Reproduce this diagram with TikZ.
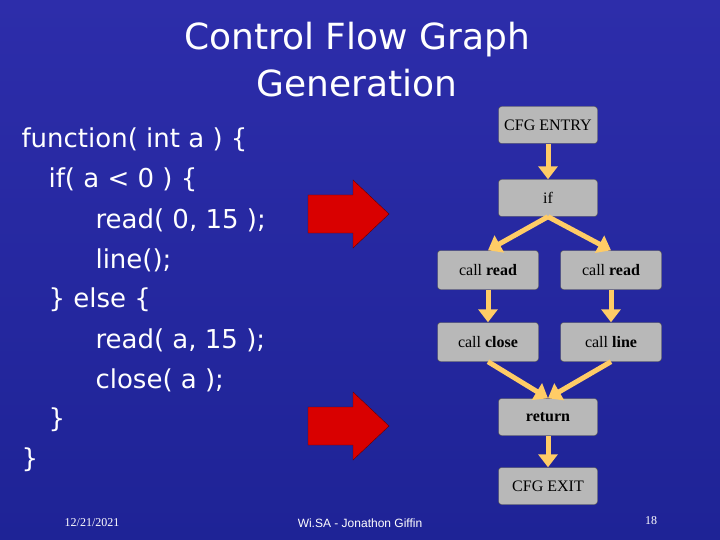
\documentclass[tikz,border=0pt]{standalone}
\usepackage{fontspec}
\setsansfont{DejaVu Sans}
\setmainfont{Liberation Serif}
\newfontfamily\footsans{Liberation Sans}
\usetikzlibrary{arrows.meta}
\begin{document}
\begin{tikzpicture}[x=1pt,y=-1pt,
  box/.style={draw=black!70,fill=black!28,rounded corners=3pt,minimum width=99pt,minimum height=37pt,inner sep=0pt,font=\fontsize{16}{18}\selectfont\rmfamily},
  flow/.style={draw={rgb,255:red,255;green,204;blue,102},line width=5pt,-{Triangle[length=13pt,width=19pt]}},
  code/.style={anchor=west,text=white,font=\fontsize{26}{30}\selectfont\sffamily},
  redarrow/.style={fill=red!85!black,draw=red!40!black}]
\useasboundingbox (0,0) rectangle (720,540);
\shade[top color={rgb,255:red,45;green,45;blue,170},bottom color={rgb,255:red,30;green,35;blue,150}] (0,0) rectangle (720,540);
\node[text=white,font=\fontsize{36}{47}\selectfont\sffamily,align=center] (title) at (357,60) {Control Flow Graph\\Generation};
\node[code] (c1) at (18,140) {function( int a ) \{};
\node[code] (c2) at (45,180) {if( a < 0 ) \{};
\node[code] (c3) at (92,220) {read( 0, 15 );};
\node[code] (c4) at (92,260) {line();};
\node[code] (c5) at (45,300) {\} else \{};
\node[code] (c6) at (92,340) {read( a, 15 );};
\node[code] (c7) at (92,380) {close( a );};
\node[code] (c8) at (45,420) {\}};
\node[code] (c9) at (18,460) {\}};
\path[redarrow] (308,195) -- (353,195) -- (353,180) -- (389,214) -- (353,248) -- (353,233) -- (308,233) -- cycle;
\path[redarrow] (308,407) -- (353,407) -- (353,392) -- (389,426) -- (353,460) -- (353,445) -- (308,445) -- cycle;
\node[box] (entry) at (548,125) {CFG ENTRY};
\node[box] (if) at (548,198) {if};
\node[box,minimum width=101pt,minimum height=39pt] (r1) at (488,270) {call \textbf{read}};
\node[box,minimum width=101pt,minimum height=39pt] (r2) at (611,270) {call \textbf{read}};
\node[box,minimum width=101pt,minimum height=39pt] (cl) at (488,342) {call \textbf{close}};
\node[box,minimum width=101pt,minimum height=39pt] (li) at (611,342) {call \textbf{line}};
\node[box] (ret) at (548,417) {\textbf{return}};
\node[box] (exit) at (548,486) {CFG EXIT};
\draw[flow] (entry) -- (if);
\draw[flow] (if.south) -- (r1.north);
\draw[flow] (if.south) -- (r2.north);
\draw[flow] (r1) -- (cl);
\draw[flow] (r2) -- (li);
\draw[flow] (cl.south) -- (ret.north);
\draw[flow] (li.south) -- (ret.north);
\draw[flow] (ret) -- (exit);
\node[text=white,font=\fontsize{12}{14}\selectfont\rmfamily] (date) at (92,523) {12/21/2021};
\node[text=white,font=\fontsize{12}{14}\selectfont\footsans] (auth) at (360,523) {Wi.SA - Jonathon Giffin};
\node[text=white,font=\fontsize{12}{14}\selectfont\rmfamily] (pg) at (651,521) {18};
\end{tikzpicture}
\end{document}
